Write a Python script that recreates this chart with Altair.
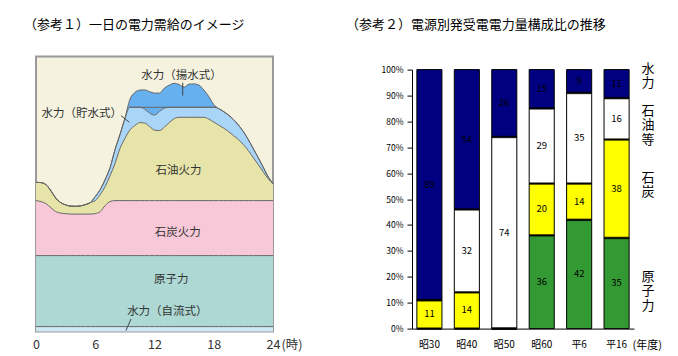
import altair as alt
import pandas as pd

FONT = "Noto Sans CJK JP"

# ---------------- Left panel: daily supply/demand image ----------------
hours = [i * 0.5 for i in range(49)]
run_top = [5] * 49
nuc_top = [76] * 49
coal_top = [131, 130, 128, 124, 120, 118.5, 118, 117.5, 117.5, 117.5, 117.5, 117.5,
            118, 120, 126, 130] + [131] * 33
oil_top = [149.3, 149, 147, 141, 133.5, 129, 126.7, 125.5, 125.3, 125.7, 127, 129,
           131, 137, 145, 156, 168, 183, 193, 201.5, 206, 209, 208.5, 205,
           201.5, 201, 204.5, 209, 213, 214.3, 214.3, 214.3, 214.3, 214.3, 214.3, 212.5,
           209.5, 206.5, 203.5, 200, 196, 192, 187, 181, 174, 167, 160, 153,
           148]
stored_top = [149.3, 149, 147, 141, 133.5, 129, 126.7, 125.5, 125.3, 125.7, 127, 129,
              135, 142, 152, 164, 182, 197, 213, 224.3, 224.3, 224.3, 222.5, 218.5,
              216.5, 220, 223.5, 224.3, 224.3, 224.3, 224.3, 224.3, 224.3, 224.3, 224.3, 224.3,
              224.3, 223, 220, 216.5, 212, 206.5, 200, 192, 183, 174, 164.5, 155,
              148]
total_top = [149.3, 149, 147, 141, 133.5, 129, 126.7, 125.5, 125.3, 125.7, 127, 129,
             135, 142, 152, 164, 182, 197, 213, 232, 239, 241.5, 241.7, 240,
             238.5, 238.5, 243.5, 246.5, 248.3, 247, 244.5, 247.5, 247.7, 246.5, 241.5, 235,
             227, 223, 220, 216.5, 212, 206.5, 200, 192, 183, 174, 164.5, 155,
             148]

df = pd.DataFrame({
    "hour": hours, "zero": [0] * 49, "run": run_top, "nuc": nuc_top,
    "coal": coal_top, "oil": oil_top, "stored": stored_top, "total": total_top,
})

label_text = ["水力（揚水式）", "水力（貯水式）", "石油火力", "石炭火力", "原子力", "水力（自流式）"]
label_h = [14.73, 4.64, 14.43, 14.35, 13.7, 13.3]
label_u = [256, 217.7, 161, 98.7, 52, 19.3]
labels_df = pd.DataFrame({"t": label_text, "h": label_h, "u": label_u})

lead_h1 = [14.86, 8.61, 9.62]
lead_h2 = [14.86, 9.45, 9.11]
lead_u1 = [249, 216, 12.7]
lead_u2 = [236, 209.3, 1]
lead_df = pd.DataFrame({"h1": lead_h1, "h2": lead_h2, "u1": lead_u1, "u2": lead_u2})

peak_line = pd.DataFrame({"h1": [9.42], "h2": [18.2], "u": [224.3]})

xs = alt.Scale(domain=[0, 24], nice=False)
ys = alt.Scale(domain=[0, 275], nice=False)
xaxis = alt.Axis(values=[0, 6, 12, 18, 24], domain=False, ticks=False, tickSize=0, grid=False,
                 labelFlush=False, labelFontSize=12.5, labelPadding=7, labelColor="#333",
                 labelFont=FONT,
                 title="(時)", titleX=245, titleY=7, titleAlign="left", titleBaseline="top",
                 titleFontSize=12.5, titleFontWeight="normal", titleColor="#333", titleFont=FONT)

def X(f):
    return alt.X(f"{f}:Q", scale=xs, axis=xaxis)

def Y(f):
    return alt.Y(f"{f}:Q", scale=ys, axis=None)

bands = [("zero", "run", "#CFE8F5"), ("run", "nuc", "#ADD8D3"), ("nuc", "coal", "#F8C8D8"),
         ("coal", "oil", "#E7E4AA"), ("oil", "stored", "#A9D6F8"), ("stored", "total", "#66B0F0")]

layers = []
for lo, hi, col in bands:
    layers.append(alt.Chart(df).mark_area(color=col, interpolate="monotone", opacity=1)
                  .encode(x=X("hour"), y=Y(hi), y2=alt.Y2(lo)))
for f in ["run", "nuc", "coal", "oil", "stored", "total"]:
    layers.append(alt.Chart(df).mark_line(color="#666", strokeWidth=1, interpolate="monotone")
                  .encode(x=X("hour"), y=Y(f)))
layers.append(alt.Chart(peak_line).mark_rule(color="#666", strokeWidth=1)
              .encode(x=X("h1"), x2="h2:Q", y=Y("u")))
layers.append(alt.Chart(lead_df).mark_rule(color="#444", strokeWidth=1)
              .encode(x=X("h1"), x2="h2:Q", y=Y("u1"), y2="u2:Q"))
layers.append(alt.Chart(labels_df).mark_text(font=FONT, fontSize=11.5, color="#333",
                                             baseline="middle", align="center")
              .encode(x=X("h"), y=Y("u"), text="t:N"))

left = alt.layer(*layers).properties(
    width=237, height=275,
    title=alt.TitleParams(text="（参考１）一日の電力需給のイメージ", anchor="start", frame="group",
                          dx=-12, offset=11.4, fontSize=13, font=FONT, fontWeight="normal",
                          color="black", baseline="bottom"),
    view=alt.ViewBackground(fill="#F5F3E0", stroke="#9A9A9A", strokeWidth=2),
)

# ---------------- Right panel: composition by source ----------------
years = ["昭30", "昭40", "昭50", "昭60", "平6", "平16"]
sources = ["原子力", "石炭", "石油等", "水力"]
nuclear = [0, 0, 0, 36, 42, 35]
coal = [11, 14, 0, 20, 14, 38]
oil = [0, 32, 74, 29, 35, 16]
hydro = [89, 54, 26, 15, 9, 11]
colors = ["#339933", "#FFFF00", "#FFFFFF", "#000080"]

rows = []
for i, y in enumerate(years):
    for k, (s, vals) in enumerate(zip(sources, [nuclear, coal, oil, hydro])):
        rows.append({"year": y, "source": s, "value": vals[i], "order": k})
bdf = pd.DataFrame(rows)

side_text = ["水\n力", "石\n油\n等", "石\n炭", "原\n子\n力"]
side_pos = [100.4, 84.2, 58.3, 20.1]
side_df = pd.DataFrame({"t": side_text, "p": side_pos})

RH = 272  # right panel height; plot spans 13..272 so its top sits lower than the left one
bx = alt.X("year:N", sort=years, scale=alt.Scale(paddingInner=0.33, paddingOuter=0.13),
           axis=alt.Axis(labelAngle=0, ticks=False, tickSize=0, domainColor="black", labelColor="black",
                         labelFontSize=10, labelPadding=11, labelFont=FONT,
                         title="(年度)", titleX=220, titleY=11, titleAlign="left",
                         titleBaseline="top", titleFontSize=11, titleFontWeight="normal",
                         titleColor="black", titleFont=FONT))
bys = alt.Scale(domain=[0, 100], nice=False, range=[RH, 13])
byaxis = alt.Axis(values=list(range(0, 101, 10)), labelExpr="datum.value + '%'", grid=False,
                  tickSize=5, tickColor="black", domainColor="black", labelColor="black",
                  labelFontSize=8.5, labelPadding=4, labelFont=FONT, title=None)

bars = alt.Chart(bdf).mark_bar(stroke="black", strokeWidth=1).encode(
    x=bx,
    y=alt.Y("value:Q", stack="zero", scale=bys, axis=byaxis),
    color=alt.Color("source:N", scale=alt.Scale(domain=sources, range=colors), legend=None),
    order=alt.Order("order:Q"),
)

stacked = alt.Chart(bdf).transform_stack(
    stack="value", as_=["y0", "y1"], groupby=["year"], sort=[alt.SortField("order")]
).transform_calculate(mid="(datum.y0 + datum.y1) / 2")

seps = stacked.transform_filter("datum.source != '水力'").mark_tick(
    color="black", thickness=2.5, size=25).encode(x=bx, y=alt.Y("y1:Q", scale=bys, axis=byaxis))

seg_labels = stacked.transform_filter("datum.value > 0").mark_text(
    font=FONT, fontSize=9.5, color="black", baseline="middle").encode(
    x=bx, y=alt.Y("mid:Q", scale=bys, axis=byaxis), text="value:Q")

side = alt.Chart(side_df).mark_text(font=FONT, fontSize=13, color="black", lineBreak="\n",
                                    lineHeight=14.5, baseline="middle", align="center").encode(
    x=alt.value(236), y=alt.Y("p:Q", scale=bys, axis=byaxis), text="t:N")

right = alt.layer(bars, seps, seg_labels, side).properties(
    width=222, height=RH,
    title=alt.TitleParams(text="（参考２）電源別発受電電力量構成比の推移", anchor="start", frame="group",
                          dx=-66, offset=11.4, fontSize=13, font=FONT, fontWeight="normal",
                          color="black", baseline="bottom"),
    view=alt.ViewBackground(stroke="transparent"),
)

chart = alt.hconcat(left, right, spacing=42).properties(
    padding={"left": 15, "top": 9.6, "right": 0, "bottom": 2}
).configure(font=FONT)

chart.save("out.html", embed_options={"renderer": "svg", "actions": False})
